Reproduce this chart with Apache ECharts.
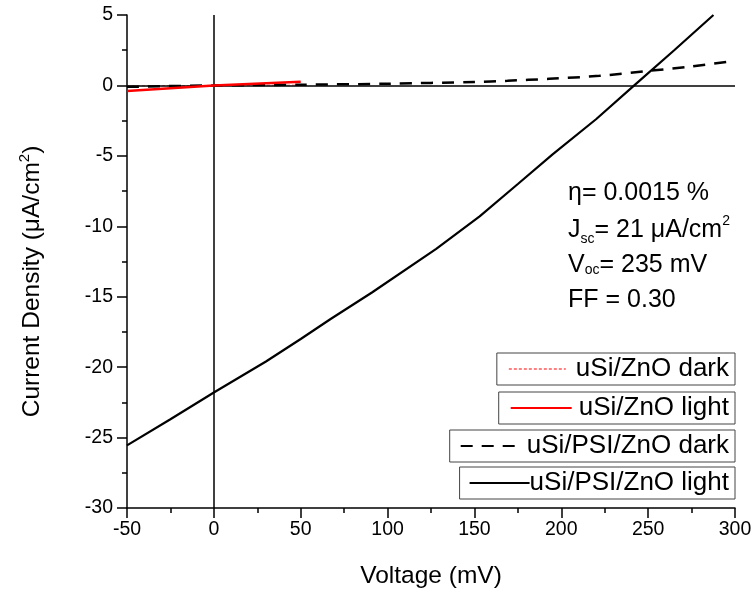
<!DOCTYPE html>
<html>
<head>
<meta charset="utf-8">
<script src="https://cdn.jsdelivr.net/npm/echarts@6/dist/echarts.min.js"></script>
<style>html,body{margin:0;padding:0;background:#fff;}#c{width:755px;height:594px;}</style>
</head>
<body>
<div id="c"></div>
<script>
// Axis ticks
var xTicks = [-50, 0, 50, 100, 150, 200, 250, 300];
var yTicks = [-30, -25, -20, -15, -10, -5, 0, 5];

// Series names
var seriesNames = ['uSi/ZnO dark', 'uSi/ZnO light', 'uSi/PSI/ZnO dark', 'uSi/PSI/ZnO light'];

// uSi/ZnO dark (hidden under zero line)
var znoDarkV = [-50, 0, 50];
var znoDarkJ = [-0.03, 0, 0.03];

// uSi/ZnO light
var znoLightV = [-50, 0, 50];
var znoLightJ = [-0.4, 0, 0.26];

// uSi/PSI/ZnO dark
var psiDarkV = [-50, 0, 50, 100, 150, 169, 193, 222, 251, 275, 300];
var psiDarkJ = [-0.1, 0, 0.05, 0.12, 0.25, 0.33, 0.47, 0.68, 1.04, 1.35, 1.75];

// uSi/PSI/ZnO light
var psiLightV = [-50, -25, 0, 30, 50, 67, 91, 128, 153, 175, 195, 220, 242, 265, 287.6];
var psiLightJ = [-25.55, -23.7, -21.8, -19.6, -18.0, -16.6, -14.7, -11.6, -9.3, -7.0, -4.9, -2.4, 0, 2.5, 5];

// Annotation
var annoLines = ['η= 0.0015 %', 'J{sub|sc}= 21 μA/cm{sup|2}', 'V{sub|oc}= 235 mV', 'FF = 0.30'];

function zip(a, b) { return a.map(function (v, i) { return [v, b[i]]; }); }

var FONT = 'Liberation Sans, Arial, sans-serif';
var chart = echarts.init(document.getElementById('c'), null, { renderer: 'canvas' });

var legendTops = [353, 392, 430, 467];
var legendIconW = [57, 61, 60, 60];
var legendTextPad = [5, 2, 1, -5];
var legendLeftPad = [11, 11, 10, 9];
var legends = seriesNames.map(function (n, i) {
  return {
    data: [n],
    right: 20,
    top: legendTops[i],
    orient: 'vertical',
    itemWidth: legendIconW[i],
    itemHeight: 14,
    padding: [3, 6, 3, legendLeftPad[i]],
    borderColor: '#444',
    borderWidth: 1,
    selectedMode: false,
    itemStyle: { opacity: 0 },
    textStyle: { fontFamily: FONT, fontSize: 26, color: '#000', padding: [0, 0, 0, legendTextPad[i]] }
  };
});

var annoTops = [193, 230, 265, 300];
var graphics = annoLines.map(function (t, i) {
  return {
    type: 'text',
    x: 568,
    y: annoTops[i],
    z: 100,
    style: {
      text: t,
      fill: '#000',
      font: '25px ' + FONT,
      verticalAlign: 'middle',
      rich: {
        sub: { fontSize: 14, fontFamily: FONT, verticalAlign: 'bottom', lineHeight: 6 },
        sup: { fontSize: 14, fontFamily: FONT, verticalAlign: 'top', lineHeight: 32 }
      }
    }
  };
});

var option = {
  backgroundColor: '#fff',
  animation: false,
  grid: { left: 127, right: 20, top: 15, bottom: 84 },
  legend: legends,
  graphic: graphics,
  xAxis: {
    type: 'value',
    min: xTicks[0],
    max: xTicks[xTicks.length - 1],
    interval: 50,
    name: 'Voltage (mV)',
    nameLocation: 'middle',
    nameGap: 56,
    nameTextStyle: { fontFamily: FONT, fontSize: 24.5, color: '#000' },
    axisLine: { onZero: false, lineStyle: { color: '#000', width: 1.5 } },
    axisTick: { show: true, inside: false, length: 10, lineStyle: { color: '#000', width: 1.5 } },
    minorTick: { show: true, splitNumber: 2, length: 5, lineStyle: { color: '#000', width: 1.5 } },
    axisLabel: { fontFamily: FONT, fontSize: 19.5, color: '#000', margin: 12 },
    splitLine: { show: false }
  },
  yAxis: {
    type: 'value',
    min: yTicks[0],
    max: yTicks[yTicks.length - 1],
    interval: 5,
    name: 'Current Density (μA/cm{sup|2})',
    nameLocation: 'middle',
    nameGap: 80,
    nameRotate: 90,
    nameTextStyle: {
      fontFamily: FONT, fontSize: 24.5, color: '#000',
      padding: [0, 40, 0, 0],
      rich: { sup: { fontSize: 15, fontFamily: FONT, verticalAlign: 'top', lineHeight: 30 } }
    },
    axisLine: { onZero: false, lineStyle: { color: '#000', width: 1.5 } },
    axisTick: { show: true, inside: false, length: 10, lineStyle: { color: '#000', width: 1.5 } },
    minorTick: { show: true, splitNumber: 2, length: 5, lineStyle: { color: '#000', width: 1.5 } },
    axisLabel: { fontFamily: FONT, fontSize: 19.5, color: '#000', margin: 14 },
    splitLine: { show: false }
  },
  series: [
    {
      name: seriesNames[0], type: 'line', data: zip(znoDarkV, znoDarkJ),
      symbol: 'none', z: 1,
      lineStyle: { color: '#ff8080', width: 1, type: [3, 2] },
      itemStyle: { color: '#ff8080' },
      markLine: {
        silent: true, symbol: 'none', animation: false,
        label: { show: false },
        lineStyle: { color: '#000', width: 1.5, type: 'solid' },
        data: [{ xAxis: 0 }, { yAxis: 0 }]
      }
    },
    {
      name: seriesNames[1], type: 'line', data: zip(znoLightV, znoLightJ),
      symbol: 'none', z: 5,
      lineStyle: { color: '#ff0000', width: 2.5 },
      itemStyle: { color: '#ff0000' }
    },
    {
      name: seriesNames[2], type: 'line', data: zip(psiDarkV, psiDarkJ),
      symbol: 'none', z: 4, smooth: 0.3,
      lineStyle: { color: '#000', width: 2.5, type: [12, 9] },
      itemStyle: { color: '#000' }
    },
    {
      name: seriesNames[3], type: 'line', data: zip(psiLightV, psiLightJ),
      symbol: 'none', z: 4,
      lineStyle: { color: '#000', width: 2.2 },
      itemStyle: { color: '#000' }
    }
  ]
};
chart.setOption(option);
</script>
</body>
</html>
